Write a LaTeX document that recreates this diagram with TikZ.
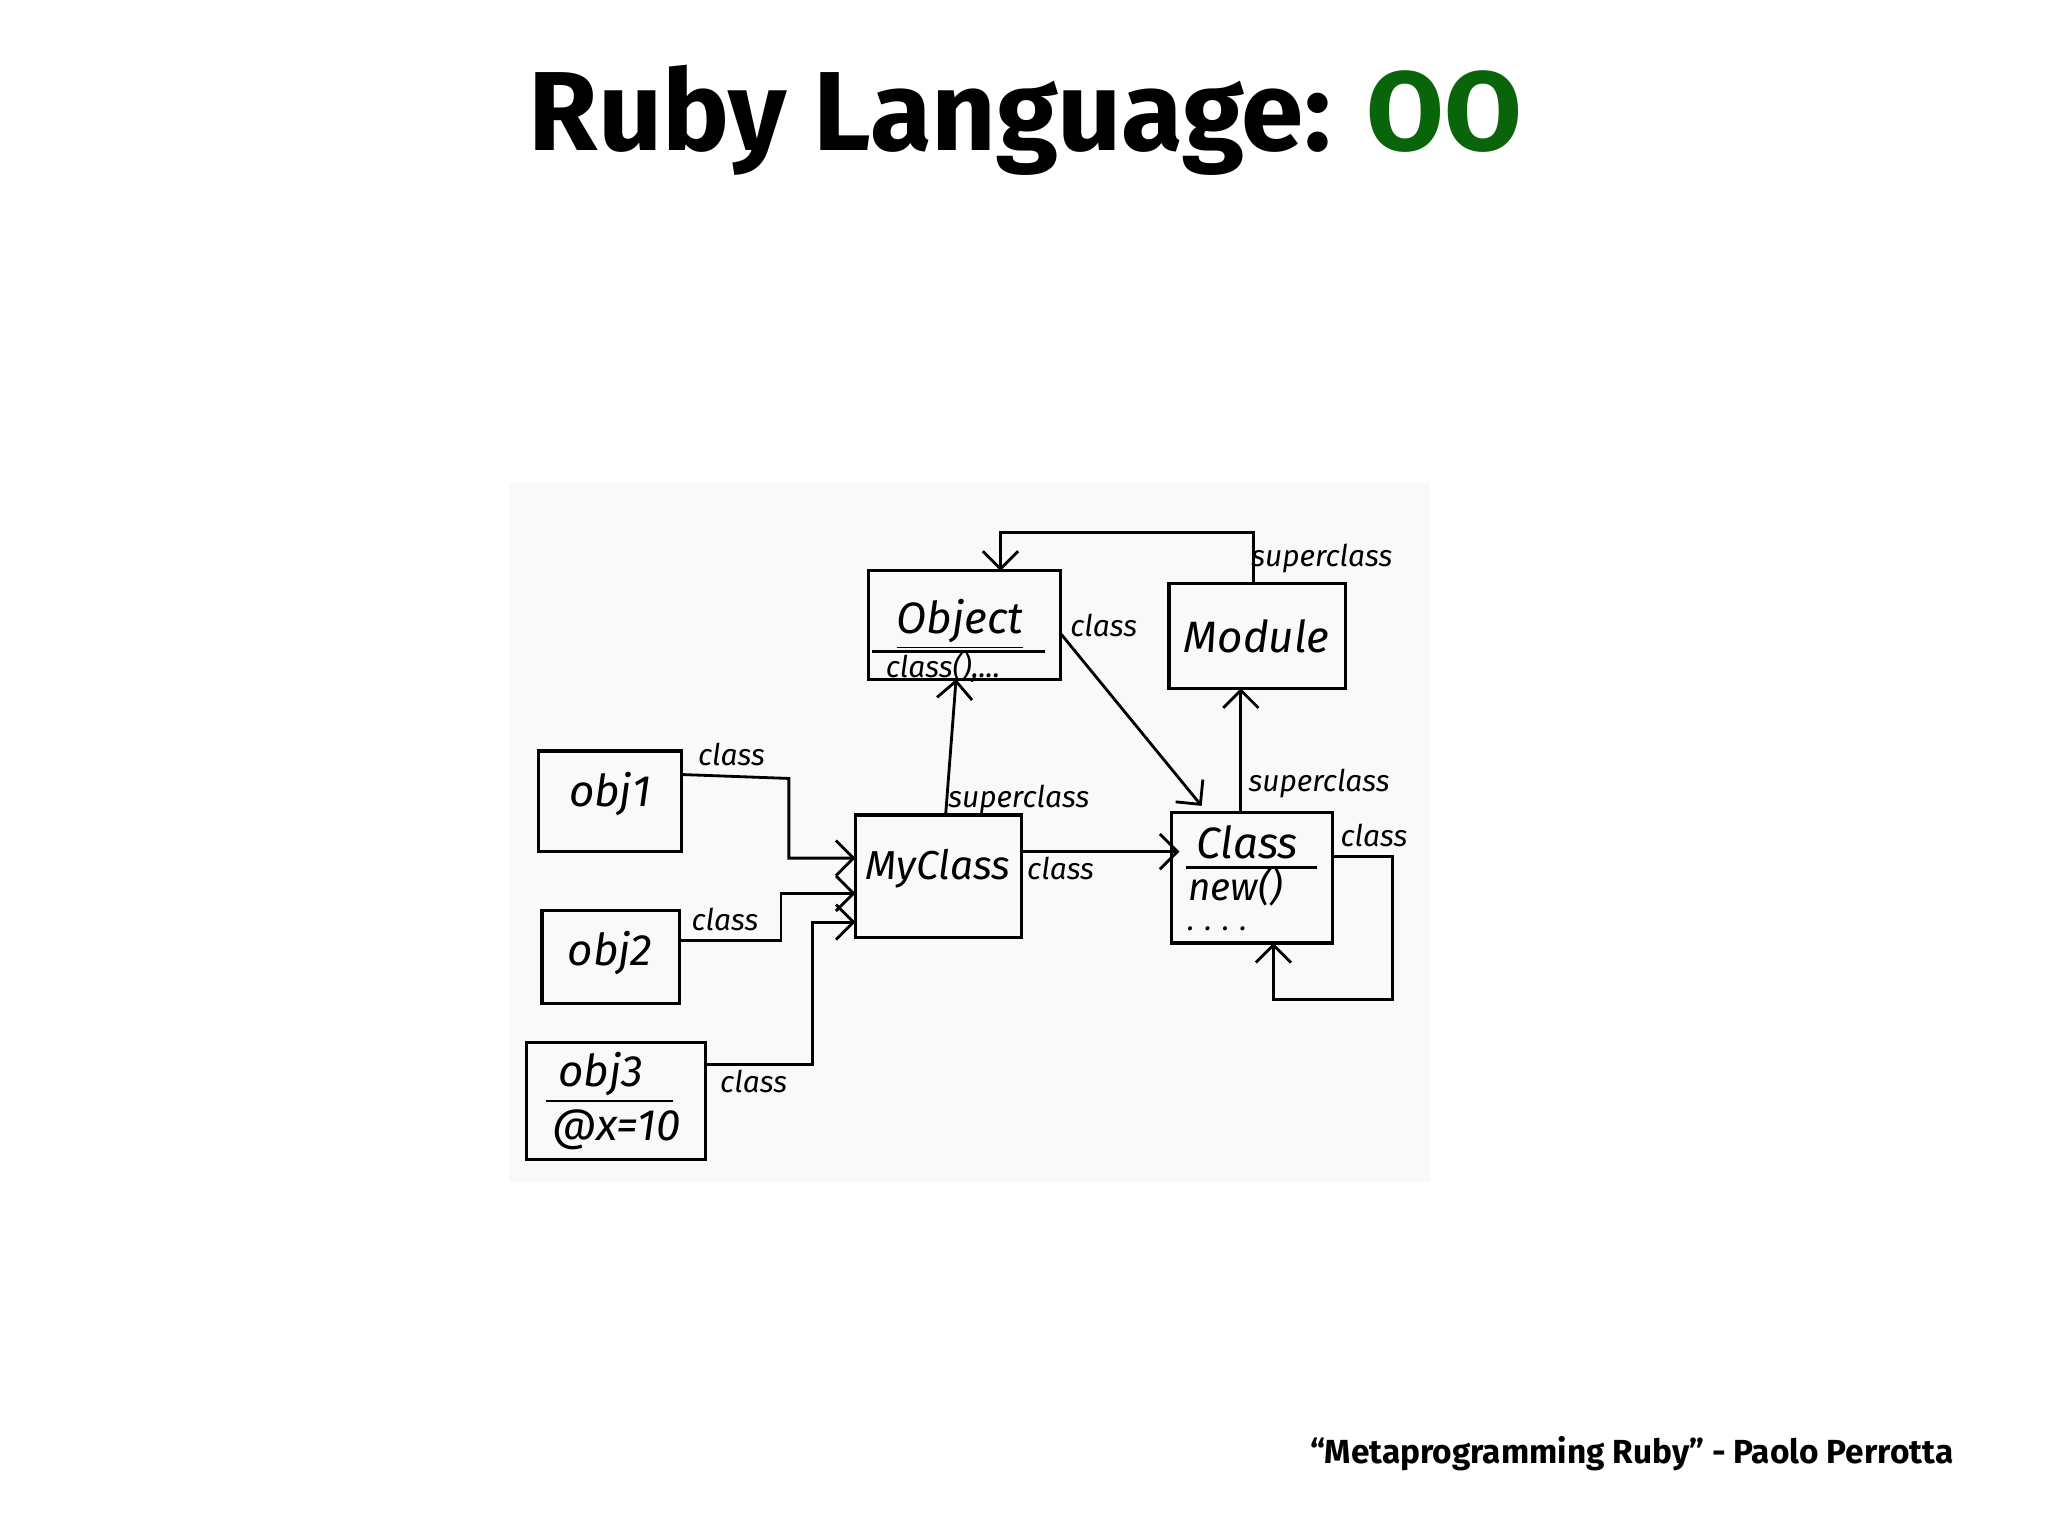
\documentclass[tikz,border=0pt]{standalone}
\usepackage{fontspec}
\setmainfont{Fira Sans}
\usetikzlibrary{arrows.meta}
\definecolor{oogreen}{RGB}{10,100,10}
\begin{document}
\begin{tikzpicture}[x=0.01306cm,y=-0.01306cm,
  box/.style={draw,line width=0.9pt,inner sep=0pt},
  conn/.style={draw,line width=0.8pt,-{Straight Barb[length=5pt]}},
  lbl/.style={font=\fontsize{8.5}{10}\selectfont\itshape,inner sep=1pt},
  big/.style={font=\fontsize{12.5}{14}\selectfont\itshape}]
\useasboundingbox (0,0) rectangle (1568,1176);
\fill[gray!5] (390,370) rectangle (1095,905);
\node[font=\fontsize{32}{38}\selectfont\bfseries] (title) at (785,92) {Ruby Language: \textcolor{oogreen}{OO}};
\node[font=\fontsize{9.5}{11}\selectfont\bfseries,anchor=east] (foot) at (1505,1113) {“Metaprogramming Ruby” - Paolo Perrotta};
% boxes
\draw[box] (665,437) rectangle (812,520); \coordinate (objT) at (766,437); \coordinate (objB) at (732,520);
\node[big] (objname) at (735,478) {\underline{Object}};
\draw[line width=0.8pt] (668,499) -- (800,499);
\node[lbl] (objm) at (722,511) {class(),...};
\draw[box] (895,447) rectangle (1030,527);
\node[big] (modname) at (962,487) {Module};
\draw[box] (412,575) rectangle (522,652);
\node[big] (o1) at (467,608) {obj1};
\draw[box] (415,697) rectangle (520,768);
\node[big] (o2) at (467,730) {obj2};
\draw[box] (403,798) rectangle (540,888);
\node[big] (o3) at (460,822) {obj3};
\draw[line width=0.8pt] (418,843) -- (515,843);
\node[big] (o3x) at (472,865) {@x=10};
\draw[box] (655,624) rectangle (782,718);
\node[font=\fontsize{11.5}{13}\selectfont\itshape] (mc) at (718,665) {MyClass};
\draw[box] (897,622) rectangle (1020,722);
\node[big] (cl) at (955,645) {Class};
\draw[line width=0.8pt] (908,664) -- (1008,664);
\node[font=\fontsize{11}{13}\selectfont\itshape,inner sep=1pt] (new) at (946,679) {new()};
\node[lbl] (dots) at (932,711) {. . . .};
% connectors
\draw[conn] (522,593) -- (604,596) -- (604,657) -- (655,657);
\node[lbl] (l1) at (560,578) {class};
\draw[conn] (520,720) -- (598,720) -- (598,684) -- (655,684);
\node[lbl] (l2) at (555,704) {class};
\draw[conn] (540,815) -- (622,815) -- (622,706) -- (655,706);
\node[lbl] (l3) at (577,828) {class};
\draw[conn] (724,624) -- (objB);
\node[lbl] (l4) at (780,612) {superclass};
\draw[conn] (782,652) -- (903,652);
\node[lbl] (l5) at (812,665) {class};
\draw[conn] (812,485) -- (920,617);
\node[lbl] (l6) at (845,479) {class};
\draw[conn] (950,622) -- (950,527);
\node[lbl] (l7) at (1010,600) {superclass};
\draw[conn] (960,447) -- (960,408) -- (766,408) -- (objT);
\node[lbl] (l8) at (1012,428) {superclass};
\draw[conn] (1020,656) -- (1066,656) -- (1066,765) -- (975,765) -- (975,722);
\node[lbl] (l9) at (1052,640) {class};
\end{tikzpicture}
\end{document}
